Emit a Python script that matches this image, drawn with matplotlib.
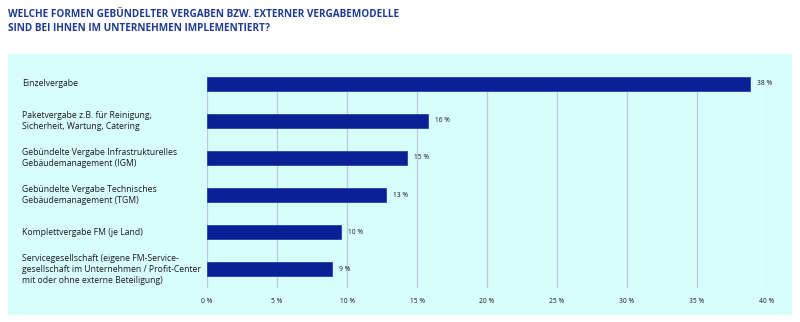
import matplotlib
matplotlib.use("Agg")
import matplotlib.pyplot as plt
import matplotlib.transforms as mtransforms
from matplotlib.patches import Rectangle

plt.rcParams['font.family'] = ['Open Sans', 'DejaVu Sans']

title = ("WELCHE FORMEN GEBÜNDELTER VERGABEN BZW. EXTERNER VERGABEMODELLE\n"
         "SIND BEI IHNEN IM UNTERNEHMEN IMPLEMENTIERT?")
categories = [
    "Einzelvergabe",
    "Paketvergabe z.B. für Reinigung,\nSicherheit, Wartung, Catering",
    "Gebündelte Vergabe Infrastrukturelles\nGebäudemanagement (IGM)",
    "Gebündelte Vergabe Technisches\nGebäudemanagement (TGM)",
    "Komplettvergabe FM (je Land)",
    "Servicegesellschaft (eigene FM-Service-\ngesellschaft im Unternehmen / Profit-Center\nmit oder ohne externe Beteiligung)",
]
values = [38.8, 15.8, 14.3, 12.8, 9.6, 8.9]
value_labels = ["38 %", "16 %", "15 %", "13 %", "10 %", "9 %"]
xticks = [0, 5, 10, 15, 20, 25, 30, 35, 40]
xtick_labels = ["0 %", "5 %", "10 %", "15 %", "20 %", "25 %", "30 %", "35 %", "40 %"]

navy = "#0a2096"
text_col = "#1a1a1a"
grid_col = "#b4ccd4"

fig = plt.figure(figsize=(8, 3.22), dpi=100)
fig.patch.set_facecolor("white")

# light cyan panel behind the chart
fig.patches.append(Rectangle((8 / 800, 1 - 315 / 322), 784 / 800, 261 / 322,
                             transform=fig.transFigure, facecolor="#d8fdfd",
                             edgecolor="none", zorder=-5))

fig.text(8 / 800, 1 - 9 / 322, title, ha="left", va="top", fontsize=7.2,
         fontweight="bold", color="#1f3c90", linespacing=1.35)

ax = fig.add_axes([207 / 800, 1 - 288 / 322, 560 / 800, 216 / 322])
ax.set_facecolor("none")
ax.set_zorder(2)

y = list(range(len(categories)))
ax.barh(y, values, height=0.36, color=navy, edgecolor="#2a3fa8", linewidth=0.6, zorder=3)

for yi, v, lab in zip(y, values, value_labels):
    ax.text(v + 0.5, yi, lab, ha="left", va="center", fontsize=4.8, color=text_col)

# category labels sit at a fixed figure x, aligned to the bar rows
label_tr = mtransforms.blended_transform_factory(fig.transFigure, ax.transData)
for yi, cat in zip(y, categories):
    ax.text(22 / 800, yi, cat, transform=label_tr, ha="left", va="center",
            fontsize=6.2, color=text_col, linespacing=1.3, clip_on=False)

ax.set_xlim(0, 40)
ax.set_ylim(5.51, -0.32)
ax.set_xticks(xticks)
ax.set_xticklabels(xtick_labels, fontsize=4.8, color=text_col)
ax.tick_params(axis="x", length=0, pad=7)
ax.set_yticks([])
# grid lines start at the top edge of the first bar
for xt in xticks:
    ax.axvline(xt, ymin=0, ymax=0.975, color=grid_col, linewidth=0.9, zorder=1)
for s in ax.spines.values():
    s.set_visible(False)

fig.savefig("out.png", dpi=100, facecolor="white")
